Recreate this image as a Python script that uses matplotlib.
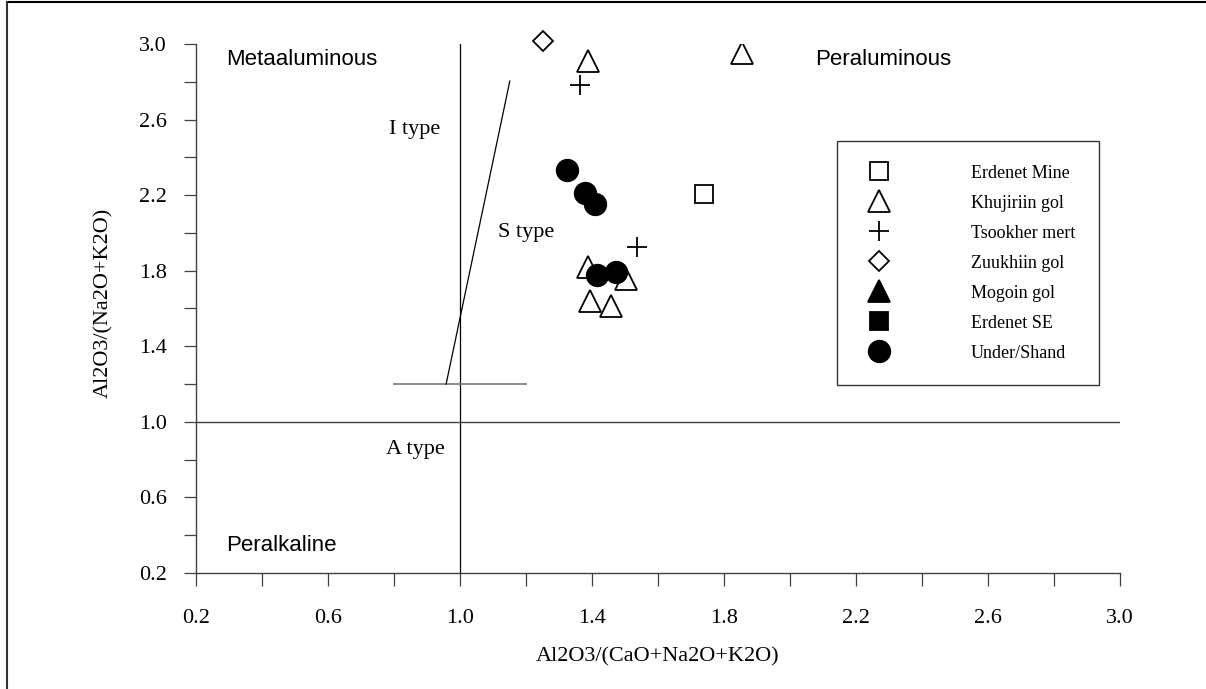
import matplotlib.pyplot as plt
from matplotlib.lines import Line2D

# Shand index: A/CNK vs A/NK for the granitoid samples
erdenet_mine_x = [1.739]
erdenet_mine_y = [2.206]

khujiriin_x = [1.389, 1.855, 1.389, 1.503, 1.394, 1.458]
khujiriin_y = [2.910, 2.950, 1.818, 1.756, 1.641, 1.615]

tsookher_x = [1.364, 1.535]
tsookher_y = [2.783, 1.927]

zuukhiin_x = [1.252]
zuukhiin_y = [3.017]

mogoin_x, mogoin_y = [], []          # no analyses plotted
erdenet_se_x, erdenet_se_y = [], []  # no analyses plotted

under_shand_x = [1.325, 1.379, 1.409, 1.414, 1.472]
under_shand_y = [2.333, 2.213, 2.152, 1.777, 1.795]

# I/S-type divide and its base
is_line_x = [0.958, 1.151]
is_line_y = [1.2, 2.804]
base_x = [0.8, 1.2]
base_y = [1.2, 1.2]

xticks = [0.2, 0.6, 1.0, 1.4, 1.8, 2.2, 2.6, 3.0]
yticks = [0.2, 0.6, 1.0, 1.4, 1.8, 2.2, 2.6, 3.0]

SERIF = "Liberation Serif"
SANS = "Liberation Sans"

fig = plt.figure(figsize=(12.06, 6.89), dpi=100)
ax = fig.add_axes([0.1625, 0.1684, 0.7662, 0.7677])

# boundary lines
ax.plot([1.0, 1.0], [0.2, 3.0], color="black", lw=0.9, zorder=1)
ax.plot([0.2, 3.0], [1.0, 1.0], color="#404040", lw=1.0, zorder=1)
ax.plot(base_x, base_y, color="#808080", lw=1.3, zorder=1)
ax.plot(is_line_x, is_line_y, color="black", lw=0.9, zorder=1)

ms = 15.5
common = dict(linestyle="none", markeredgecolor="black", markeredgewidth=1.3)
ax.plot(erdenet_mine_x, erdenet_mine_y, marker="s", markersize=13, markerfacecolor="white",
        label="Erdenet Mine", **common)
ax.plot(khujiriin_x, khujiriin_y, marker="^", markersize=16.5, markerfacecolor="white",
        label="Khujiriin gol", **common)
ax.plot(tsookher_x, tsookher_y, marker="+", markersize=15, color="black",
        label="Tsookher mert", **common)
ax.plot(zuukhiin_x, zuukhiin_y, marker="D", markersize=10, markerfacecolor="white",
        label="Zuukhiin gol", clip_on=False, **common)
ax.plot(mogoin_x, mogoin_y, marker="^", markersize=16.5, markerfacecolor="black",
        label="Mogoin gol", **common)
ax.plot(erdenet_se_x, erdenet_se_y, marker="s", markersize=13, markerfacecolor="black",
        label="Erdenet SE", **common)
ax.plot(under_shand_x, under_shand_y, marker="o", markersize=ms, markerfacecolor="black",
        label="Under/Shand", **common)

# field names
ax.text(0.291, 2.916, "Metaaluminous", family=SANS, fontsize=16, va="center")
ax.text(2.076, 2.916, "Peraluminous", family=SANS, fontsize=16, va="center")
ax.text(0.291, 0.343, "Peralkaline", family=SANS, fontsize=16, va="center")
ax.text(0.785, 2.545, "I type", family=SERIF, fontsize=16, va="center")
ax.text(1.115, 2.000, "S type", family=SERIF, fontsize=16, va="center")
ax.text(0.776, 0.851, "A type", family=SERIF, fontsize=16, va="center")

ax.set_xlim(0.2, 3.0)
ax.set_ylim(0.2, 3.0)
ax.set_xticks(xticks)
ax.set_yticks(yticks)
ax.set_xticks([0.4, 0.8, 1.2, 1.6, 2.0, 2.4, 2.8], minor=True)
ax.set_yticks([0.4, 0.8, 1.2, 1.6, 2.0, 2.4, 2.8], minor=True)
ax.set_xticklabels([f"{v:.1f}" for v in xticks], family=SERIF, fontsize=16)
ax.set_yticklabels([f"{v:.1f}" for v in yticks], family=SERIF, fontsize=16)
ax.tick_params(axis="both", which="both", direction="out", length=9, width=0.9, color="#404040")
ax.tick_params(axis="x", which="major", pad=17)
ax.tick_params(axis="y", which="major", pad=12)

for side in ("top", "right"):
    ax.spines[side].set_visible(False)
for side in ("left", "bottom"):
    ax.spines[side].set_color("#404040")
    ax.spines[side].set_linewidth(1.0)

ax.set_xlabel("Al2O3/(CaO+Na2O+K2O)", family=SERIF, fontsize=16, labelpad=14)
ax.set_ylabel("Al2O3/(Na2O+K2O)", family=SERIF, fontsize=16)
ax.yaxis.set_label_coords(-0.09, 0.51)

leg = ax.legend(loc="upper left", bbox_to_anchor=(0.694, 0.8166), borderaxespad=0,
                prop={"family": SERIF, "size": 13}, frameon=True, fancybox=False,
                edgecolor="black", handlelength=2.0, handletextpad=4.1,
                borderpad=1.3, labelspacing=0.72)
leg.get_frame().set_linewidth(1.0)

# figure frame (top and left edges)
fig.add_artist(Line2D([0.0055, 1.0], [0.997, 0.997], transform=fig.transFigure,
                      color="black", lw=1.5))
fig.add_artist(Line2D([0.0055, 0.0055], [0.0, 0.997], transform=fig.transFigure,
                      color="#333333", lw=1.5))

fig.savefig("out.png", dpi=100)
